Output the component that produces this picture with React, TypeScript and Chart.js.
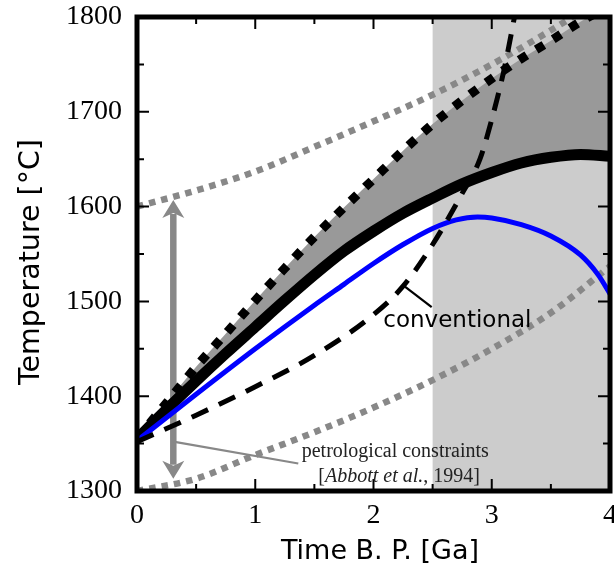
import React, { useEffect, useRef } from 'react';
import { Chart, registerables } from 'chart.js';

Chart.register(...registerables);

// ---- axes ----
const X_MIN = 0;
const X_MAX = 4;
const Y_MIN = 1300;
const Y_MAX = 1800;
const X_TICK_LABELS = ['0', '1', '2', '3', '4'];
const Y_TICK_LABELS = ['1300', '1400', '1500', '1600', '1700', '1800'];
const X_TITLE = 'Time B. P. [Ga]';
const Y_TITLE = 'Temperature [°C]';

// ---- shaded Archean interval ----
const ARCHEAN_RANGE = [2.5, 4];

// ---- model envelope (black dotted upper bound and thick black curve) ----
const BAND_X = [0, 0.25, 0.5, 0.75, 1, 1.25, 1.5, 1.75, 2, 2.25, 2.5, 2.75, 3, 3.25, 3.5, 3.75, 4];
const UPPER_T = [1355, 1393, 1431, 1466, 1501, 1535, 1568, 1599, 1629, 1659, 1687, 1712, 1735, 1756, 1775, 1795, 1812];
const MODEL_T = [1355, 1386, 1416, 1445, 1473, 1501, 1528, 1553, 1574, 1593, 1609, 1624, 1636, 1646, 1652, 1655, 1653];

// ---- blue curve ----
const BLUE_X = [0, 0.5, 1, 1.5, 1.75, 2, 2.25, 2.5, 2.7, 2.88, 3.0, 3.25, 3.5, 3.75, 3.9, 4];
const BLUE_T = [1353, 1402, 1450, 1496, 1518, 1540, 1560, 1577, 1586, 1589, 1588, 1581, 1569, 1549, 1528, 1508];

// ---- conventional (dashed) ----
const CONV_X = [0, 0.5, 1, 1.5, 2, 2.25, 2.5, 2.75, 2.9, 3.0, 3.1, 3.2, 3.3];
const CONV_T = [1352, 1380, 1410, 1443, 1486, 1516, 1560, 1614, 1650, 1692, 1742, 1805, 1870];

// ---- petrological constraints (gray dotted) ----
const PETRO_X = [0, 0.5, 1, 1.5, 2, 2.5, 3, 3.5, 4];
const PETRO_UPPER = [1600, 1617, 1637, 1663, 1690, 1718, 1750, 1786, 1825];
const PETRO_LOWER = [1300, 1313, 1338, 1362, 1388, 1417, 1450, 1488, 1537];

// ---- annotations (data coordinates) ----
const ARROW_X = 0.307;
const ARROW_RANGE = [1313, 1607];
const PETRO_POINTER = [[0.307, 1352], [1.364, 1329]];
const CONV_POINTER = [[2.252, 1517], [2.492, 1494]];
const CONV_LABEL = { x: 2.083, y: 1473, text: 'conventional' };
const PETRO_LABEL = { x: 1.393, y: 1336, text: 'petrological constraints' };
const REF_LABEL_POS = { x: 1.533, y: 1310 };
const REF_LABEL_PARTS: [string, boolean][] = [['[', false], ['Abbott et al.', true], [', 1994]', false]];

const X_MINOR = 0.5;
const Y_MINOR = 50;

const GRAY = '#888888';
const SERIF = '"Liberation Serif", "Times New Roman", serif';
const SANS = '"DejaVu Sans", sans-serif';

const pts = (xs: number[], ys: number[]) => xs.map((x, i) => ({ x, y: ys[i] }));

const decorPlugin = {
  id: 'decor',
  beforeDatasetsDraw(chart: any) {
    const { ctx, chartArea: a, scales } = chart;
    const xs = scales.x, ys = scales.y;
    ctx.save();
    // Archean shading
    const x0 = xs.getPixelForValue(ARCHEAN_RANGE[0]);
    const x1 = xs.getPixelForValue(ARCHEAN_RANGE[1]);
    ctx.fillStyle = '#cccccc';
    ctx.fillRect(x0, a.top, x1 - x0, a.bottom - a.top);

    // double arrow
    const ax = xs.getPixelForValue(ARROW_X);
    const yb = ys.getPixelForValue(ARROW_RANGE[0]);
    const yt = ys.getPixelForValue(ARROW_RANGE[1]);
    const hl = 18, hw = 11;
    ctx.strokeStyle = GRAY;
    ctx.fillStyle = GRAY;
    ctx.lineWidth = 6.5;
    ctx.beginPath();
    ctx.moveTo(ax, yt + hl - 4);
    ctx.lineTo(ax, yb - hl + 4);
    ctx.stroke();
    ctx.beginPath();
    ctx.moveTo(ax, yt);
    ctx.lineTo(ax + hw, yt + hl);
    ctx.lineTo(ax, yt + hl - 5);
    ctx.lineTo(ax - hw, yt + hl);
    ctx.closePath();
    ctx.fill();
    ctx.beginPath();
    ctx.moveTo(ax, yb);
    ctx.lineTo(ax + hw, yb - hl);
    ctx.lineTo(ax, yb - hl + 5);
    ctx.lineTo(ax - hw, yb - hl);
    ctx.closePath();
    ctx.fill();

    // petrological pointer
    ctx.lineWidth = 2.2;
    ctx.beginPath();
    ctx.moveTo(xs.getPixelForValue(PETRO_POINTER[0][0]), ys.getPixelForValue(PETRO_POINTER[0][1]));
    ctx.lineTo(xs.getPixelForValue(PETRO_POINTER[1][0]), ys.getPixelForValue(PETRO_POINTER[1][1]));
    ctx.stroke();
    ctx.restore();
  },
  afterDatasetsDraw(chart: any) {
    const { ctx, chartArea: a, scales } = chart;
    const xs = scales.x, ys = scales.y;
    ctx.save();
    // inward ticks
    ctx.strokeStyle = '#000';
    ctx.lineWidth = 2;
    for (let v = X_MIN; v <= X_MAX + 1e-9; v += X_MINOR) {
      const px = xs.getPixelForValue(v);
      const len = Math.abs(v - Math.round(v)) < 1e-9 ? 12 : 7;
      ctx.beginPath();
      ctx.moveTo(px, a.bottom);
      ctx.lineTo(px, a.bottom - len);
      ctx.moveTo(px, a.top);
      ctx.lineTo(px, a.top + len);
      ctx.stroke();
    }
    for (let v = Y_MIN; v <= Y_MAX + 1e-9; v += Y_MINOR) {
      const py = ys.getPixelForValue(v);
      const len = v % 100 === 0 ? 12 : 7;
      ctx.beginPath();
      ctx.moveTo(a.left, py);
      ctx.lineTo(a.left + len, py);
      ctx.moveTo(a.right, py);
      ctx.lineTo(a.right - len, py);
      ctx.stroke();
    }
    // frame
    ctx.lineWidth = 5;
    ctx.strokeRect(a.left, a.top, a.right - a.left, a.bottom - a.top);

    // conventional pointer + label
    ctx.lineWidth = 2.2;
    ctx.beginPath();
    ctx.moveTo(xs.getPixelForValue(CONV_POINTER[0][0]), ys.getPixelForValue(CONV_POINTER[0][1]));
    ctx.lineTo(xs.getPixelForValue(CONV_POINTER[1][0]), ys.getPixelForValue(CONV_POINTER[1][1]));
    ctx.stroke();
    ctx.fillStyle = '#000';
    ctx.textAlign = 'left';
    ctx.textBaseline = 'alphabetic';
    ctx.font = `23px ${SANS}`;
    ctx.fillText(CONV_LABEL.text, xs.getPixelForValue(CONV_LABEL.x), ys.getPixelForValue(CONV_LABEL.y));

    // petrological labels
    ctx.fillStyle = '#222';
    ctx.font = `20px ${SERIF}`;
    ctx.fillText(PETRO_LABEL.text, xs.getPixelForValue(PETRO_LABEL.x), ys.getPixelForValue(PETRO_LABEL.y));
    let cx = xs.getPixelForValue(REF_LABEL_POS.x);
    const cy = ys.getPixelForValue(REF_LABEL_POS.y);
    for (const [t, it] of REF_LABEL_PARTS) {
      ctx.font = `${it ? 'italic ' : ''}20px ${SERIF}`;
      ctx.fillText(t, cx, cy);
      cx += ctx.measureText(t).width;
    }

    // axis titles
    ctx.fillStyle = '#000';
    ctx.textAlign = 'center';
    ctx.textBaseline = 'alphabetic';
    ctx.font = `27px ${SANS}`;
    ctx.fillText(X_TITLE, (a.left + a.right) / 2 + 6.5, a.bottom + 68);
    ctx.translate(a.left - 98, (a.top + a.bottom) / 2 + 8);
    ctx.rotate(-Math.PI / 2);
    ctx.font = `28.5px ${SANS}`;
    ctx.fillText(Y_TITLE, 0, 0);
    ctx.restore();
  },
};

export default function App() {
  const ref = useRef<HTMLCanvasElement>(null);
  useEffect(() => {
    const chart = new Chart(ref.current as HTMLCanvasElement, {
      type: 'line',
      data: {
        datasets: [
          {
            label: 'conventional',
            data: pts(CONV_X, CONV_T),
            borderColor: '#000000',
            borderWidth: 5,
            borderDash: [18, 12],
            cubicInterpolationMode: 'monotone',
            pointRadius: 0,
            fill: false,
            order: 0,
          },
          {
            label: 'blue model',
            data: pts(BLUE_X, BLUE_T),
            borderColor: '#0000ff',
            borderWidth: 5,
            cubicInterpolationMode: 'monotone',
            pointRadius: 0,
            fill: false,
            order: 1,
          },
          {
            label: 'model',
            data: pts(BAND_X, MODEL_T),
            borderColor: '#000000',
            borderWidth: 11,
            cubicInterpolationMode: 'monotone',
            pointRadius: 0,
            fill: false,
            order: 2,
          },
          {
            label: 'upper bound',
            data: pts(BAND_X, UPPER_T),
            borderColor: '#000000',
            borderWidth: 9,
            borderDash: [9, 11],
            cubicInterpolationMode: 'monotone',
            pointRadius: 0,
            fill: { target: 2 },
            backgroundColor: '#999999',
            order: 3,
          },
          {
            label: 'petrological upper',
            data: pts(PETRO_X, PETRO_UPPER),
            borderColor: GRAY,
            borderWidth: 6.5,
            borderDash: [6.5, 6],
            cubicInterpolationMode: 'monotone',
            pointRadius: 0,
            fill: false,
            order: 4,
          },
          {
            label: 'petrological lower',
            data: pts(PETRO_X, PETRO_LOWER),
            borderColor: GRAY,
            borderWidth: 6.5,
            borderDash: [6.5, 6],
            cubicInterpolationMode: 'monotone',
            pointRadius: 0,
            fill: false,
            order: 5,
          },
        ],
      },
      options: {
        animation: false,
        responsive: false,
        layout: { padding: { left: 0, top: 17, right: 4, bottom: 0 } },
        plugins: { legend: { display: false }, tooltip: { enabled: false } },
        scales: {
          x: {
            type: 'linear',
            position: 'bottom',
            min: X_MIN,
            max: X_MAX,
            grid: { display: false, drawTicks: false },
            border: { display: false },
            ticks: {
              stepSize: 1,
              autoSkip: false,
              maxRotation: 0,
              padding: 8,
              color: '#000',
              font: { family: SERIF, size: 28 },
              callback: (_v: any, i: number) => X_TICK_LABELS[i],
            },
            title: { display: false, text: X_TITLE },
            afterFit: (s: any) => {
              s.height = 76;
              s.paddingLeft = 0;
              s.paddingRight = 0;
            },
          },
          y: {
            type: 'linear',
            position: 'left',
            min: Y_MIN,
            max: Y_MAX,
            grid: { display: false, drawTicks: false },
            border: { display: false },
            ticks: {
              stepSize: 100,
              autoSkip: false,
              padding: 15,
              color: '#000',
              font: { family: SERIF, size: 28 },
              callback: (_v: any, i: number) => Y_TICK_LABELS[i],
            },
            title: { display: false, text: Y_TITLE },
            afterFit: (s: any) => {
              s.width = 137;
              s.paddingTop = 0;
              s.paddingBottom = 0;
            },
          },
        },
      } as any,
      plugins: [decorPlugin],
    });
    return () => chart.destroy();
  }, []);
  return (
    <div style={{ position: 'absolute', left: 0, top: 0, width: 614, height: 567 }}>
      <canvas ref={ref} width={614} height={567} style={{ display: 'block' }} />
    </div>
  );
}
